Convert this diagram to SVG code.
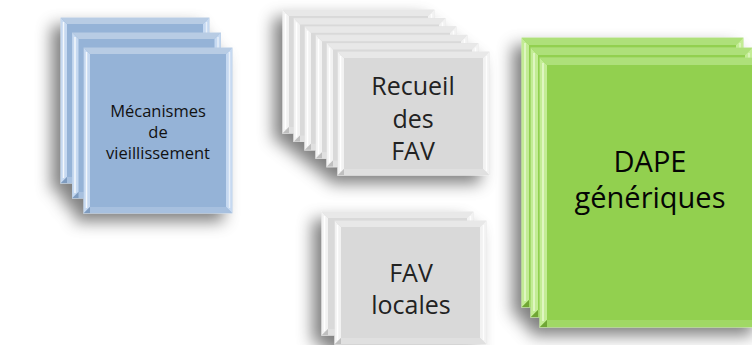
<svg xmlns="http://www.w3.org/2000/svg" xmlns:xlink="http://www.w3.org/1999/xlink" width="752" height="345" viewBox="0 0 752 345">
  <defs>
    <filter id="shadow" x="-30%" y="-30%" width="160%" height="160%">
      <feGaussianBlur in="SourceAlpha" stdDeviation="8"/>
      <feOffset dx="-9" dy="8" result="b"/>
      <feFlood flood-color="#000" flood-opacity="0.5"/>
      <feComposite in2="b" operator="in" result="s"/>
      <feMerge><feMergeNode in="s"/><feMergeNode in="SourceGraphic"/></feMerge>
    </filter>
    <g id="blueCard">
      <rect width="148" height="165" fill="#95B3D7" stroke="#B8CCE4" stroke-width="1"/>
      <polygon points="0,0 6,6 6,159 0,165" fill="#C6D9F1"/>
      <polygon points="0,0 148,0 142,6 6,6" fill="#B8CCE4"/>
      <polygon points="148,0 148,165 142,159 142,6" fill="#C6D9F1"/>
      <polygon points="0,165 6,159 142,159 148,165" fill="#A7C0DF"/>
      <polygon points="0,165 6,159 6,165" fill="#7F9CC0"/>
      <line x1="2.5" y1="4" x2="2.5" y2="160" stroke="#fff" stroke-opacity="0.8" stroke-width="1.5"/>
      <line x1="145.5" y1="4" x2="145.5" y2="160" stroke="#fff" stroke-opacity="0.6" stroke-width="1.5"/>
    </g>
    <g id="grayCard">
      <rect width="151" height="123" fill="#D9D9D9" stroke="#E6E6E6" stroke-width="1"/>
      <polygon points="0,0 6,6 6,117 0,123" fill="#F2F2F2"/>
      <polygon points="0,0 151,0 145,6 6,6" fill="#E8E8E8"/>
      <polygon points="151,0 151,123 145,117 145,6" fill="#F2F2F2"/>
      <polygon points="0,123 6,117 145,117 151,123" fill="#E0E0E0"/>
      <polygon points="0,123 6,117 6,123" fill="#BFBFBF"/>
      <line x1="2.5" y1="4" x2="2.5" y2="119" stroke="#fff" stroke-width="1.5"/>
      <line x1="148.5" y1="4" x2="148.5" y2="119" stroke="#fff" stroke-opacity="0.8" stroke-width="1.5"/>
    </g>
    <g id="greenCard">
      <rect width="221" height="269" fill="#92D050" stroke="#B5E287" stroke-width="1"/>
      <polygon points="0,0 7,7 7,262 0,269" fill="#C3EC95"/>
      <polygon points="0,0 221,0 214,7 7,7" fill="#AEE07A"/>
      <polygon points="221,0 221,269 214,262 214,7" fill="#C3EC95"/>
      <polygon points="0,269 7,262 214,262 221,269" fill="#A0D865"/>
      <polygon points="0,269 7,262 7,269" fill="#6FA635"/>
      <line x1="3" y1="5" x2="3" y2="263" stroke="#E8FAD0" stroke-width="1.5"/>
      <line x1="218" y1="5" x2="218" y2="263" stroke="#E8FAD0" stroke-opacity="0.8" stroke-width="1.5"/>
    </g>
  </defs>
  <style>
    text { font-family: "Open Sans", "Noto Sans", "DejaVu Sans", sans-serif; text-anchor: middle; font-weight: 500; }
    .t-blue { font-size: 16.5px; fill: #111111; }
    .t-gray { font-size: 25px; fill: #222222; }
    .t-green { font-size: 29px; fill: #050505; }
  </style>
  <rect width="752" height="345" fill="#ffffff"/>

  <g id="connectors"></g>

  <g id="mecanismes">
    <g filter="url(#shadow)">
      <use xlink:href="#blueCard" x="61" y="18"/>
      <use xlink:href="#blueCard" x="72.5" y="33"/>
      <use xlink:href="#blueCard" x="84" y="48"/>
    </g>
    <text class="t-blue" x="158" y="116.5">Mécanismes</text>
    <text class="t-blue" x="158" y="137.5">de</text>
    <text class="t-blue" x="158" y="158.5">vieillissement</text>
  </g>

  <g id="recueil">
    <g filter="url(#shadow)">
      <use xlink:href="#grayCard" x="283" y="10"/>
      <use xlink:href="#grayCard" x="294" y="18.4"/>
      <use xlink:href="#grayCard" x="305" y="26.8"/>
      <use xlink:href="#grayCard" x="316" y="35.2"/>
      <use xlink:href="#grayCard" x="327" y="43.6"/>
      <use xlink:href="#grayCard" x="338" y="52"/>
    </g>
    <text class="t-gray" x="413" y="95">Recueil</text>
    <text class="t-gray" x="413" y="127.5">des</text>
    <text class="t-gray" x="413" y="160">FAV</text>
  </g>

  <g id="fav-locales">
    <g filter="url(#shadow)">
      <use xlink:href="#grayCard" x="322" y="212"/>
      <use xlink:href="#grayCard" x="335" y="221"/>
    </g>
    <text class="t-gray" x="411" y="282">FAV</text>
    <text class="t-gray" x="411" y="314">locales</text>
  </g>

  <g id="dape">
    <g filter="url(#shadow)">
      <use xlink:href="#greenCard" x="522" y="38"/>
      <use xlink:href="#greenCard" x="531" y="48"/>
      <use xlink:href="#greenCard" x="540" y="58"/>
    </g>
    <text class="t-green" x="650" y="172">DAPE</text>
    <text class="t-green" x="650" y="208">génériques</text>
  </g>
</svg>
